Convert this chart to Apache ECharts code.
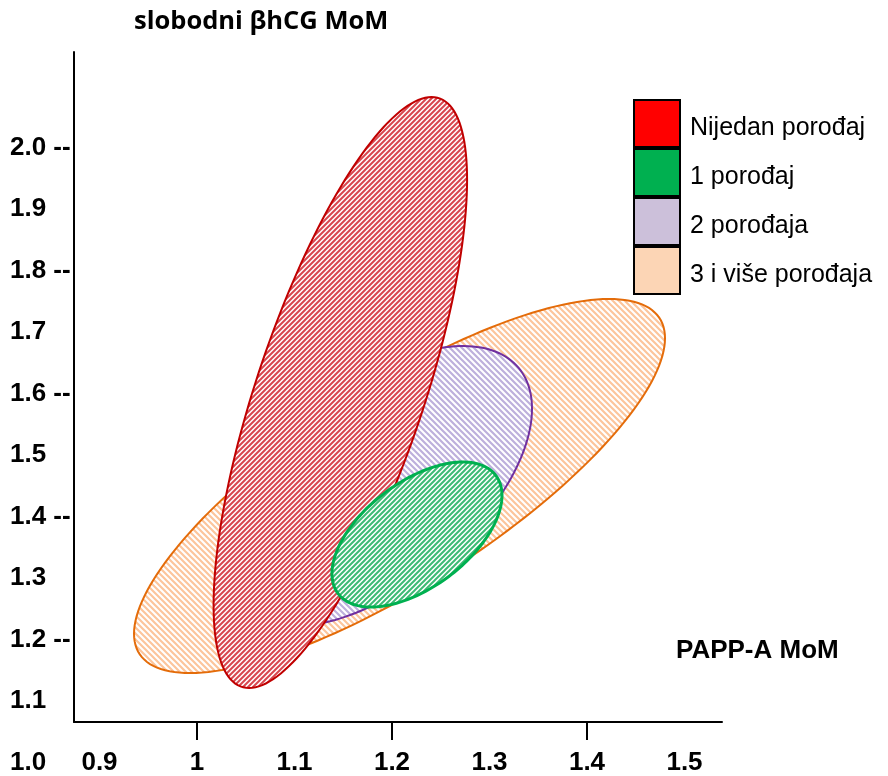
<!DOCTYPE html>
<html>
<head>
<meta charset="utf-8">
<script src="https://cdn.jsdelivr.net/npm/echarts@6/dist/echarts.min.js"></script>
<style>
html,body{margin:0;padding:0;background:#fff;}
#chart{width:888px;height:776px;}
</style>
</head>
<body>
<div id="chart"></div>
<script>
// ---- data (ellipses as bivariate summary: centre x, centre y, spread x, spread y, correlation) ----
var seriesNames = ['Nijedan porođaj', '1 porođaj', '2 porođaja', '3 i više porođaja'];
var ellNijedan = [1.147, 1.6016, 0.130, 0.4805, 0.72];
var ell1 = [1.2256, 1.3707, 0.0872, 0.1179, 0.54];
var ell2 = [1.1853, 1.4492, 0.1583, 0.228, 0.553];
var ell3 = [1.2077, 1.4496, 0.2723, 0.3041, 0.79];
var xTickLabels = [0.9, 1, 1.1, 1.2, 1.3, 1.4, 1.5];
var xTickMarks = [1, 1.2, 1.4];
var yTickLabels = [1.0, 1.1, 1.2, 1.3, 1.4, 1.5, 1.6, 1.7, 1.8, 1.9, 2.0];
var yDashed = [1.2, 1.4, 1.6, 1.8, 2.0];

function hatch(color, p, lw, dir) {
  var c = document.createElement('canvas');
  c.width = p; c.height = p;
  var g = c.getContext('2d');
  g.fillStyle = '#ffffff';
  g.fillRect(0, 0, p, p);
  g.strokeStyle = color; g.lineWidth = lw; g.lineCap = 'square';
  g.beginPath();
  if (dir === '/') {
    g.moveTo(-1, p + 1); g.lineTo(p + 1, -1);
    g.moveTo(-1, 1); g.lineTo(1, -1);
    g.moveTo(p - 1, p + 1); g.lineTo(p + 1, p - 1);
  } else {
    g.moveTo(-1, -1); g.lineTo(p + 1, p + 1);
    g.moveTo(p - 1, -1); g.lineTo(p + 1, 1);
    g.moveTo(-1, p - 1); g.lineTo(1, p + 1);
  }
  g.stroke();
  return { image: c, repeat: 'repeat' };
}

function makeRender(fill, stroke, lw) {
  return function (params, api) {
    var cx = api.value(0), cy = api.value(1), sx = api.value(2), sy = api.value(3), r = api.value(4);
    var q = Math.sqrt(1 - r * r);
    var pts = [];
    var N = 180;
    for (var i = 0; i < N; i++) {
      var t = i / N * Math.PI * 2;
      var x = cx + sx * Math.cos(t);
      var y = cy + sy * (r * Math.cos(t) + q * Math.sin(t));
      pts.push(api.coord([x, y]));
    }
    return {
      type: 'polygon',
      shape: { points: pts },
      style: { fill: fill, stroke: stroke, lineWidth: lw }
    };
  };
}

var legendFill = ['#FF0000', '#00B050', '#CCC0DA', '#FCD5B5'];

var chart = echarts.init(document.getElementById('chart'), null, { renderer: 'canvas' });
var FONT = 'Liberation Sans, Arial, sans-serif';

function ellSeries(idx, data, fill, stroke, lw, z) {
  return {
    type: 'custom',
    name: seriesNames[idx],
    xAxisIndex: 0, yAxisIndex: 0,
    coordinateSystem: 'cartesian2d',
    renderItem: makeRender(fill, stroke, lw),
    itemStyle: { color: legendFill[idx] },
    encode: { x: 0, y: 1 },
    data: [data],
    z: z,
    silent: true
  };
}

var option = {
  animation: false,
  backgroundColor: '#fff',
  grid: [
    { left: 74, right: 166, top: 52, bottom: 13.5 },
    { left: 74, right: 166, top: 52, bottom: 54 }
  ],
  xAxis: [
    { gridIndex: 0, type: 'value', min: 0.87385, max: 1.53846, axisLine: { show: false }, axisTick: { show: false }, axisLabel: { show: false }, splitLine: { show: false } },
    { gridIndex: 1, type: 'value', min: 0.87385, max: 1.53846,
      axisLine: { show: true, onZero: false, lineStyle: { color: '#000', width: 2 } },
      axisTick: { show: true, customValues: xTickMarks, length: 18, lineStyle: { color: '#000', width: 2 } },
      axisLabel: { show: true, customValues: xTickLabels, margin: 28, color: '#000', fontFamily: FONT, fontWeight: 'bold', fontSize: 26,
        formatter: function (v) { return String(v); } },
      splitLine: { show: false } }
  ],
  yAxis: [
    { gridIndex: 0, type: 'value', min: 1.0, max: 2.1553,
      axisLine: { show: false }, axisTick: { show: false }, splitLine: { show: false },
      axisLabel: { show: true, customValues: yTickLabels, align: 'left', margin: 64, color: '#000', fontFamily: FONT, fontWeight: 'bold', fontSize: 26,
        formatter: function (v) {
          var s = v.toFixed(1);
          for (var i = 0; i < yDashed.length; i++) { if (Math.abs(yDashed[i] - v) < 1e-6) return s + ' --'; }
          return s;
        } } },
    { gridIndex: 1, type: 'value', min: 1.0659, max: 2.1553,
      axisLine: { show: true, onZero: false, lineStyle: { color: '#000', width: 2 } },
      axisTick: { show: false }, axisLabel: { show: false }, splitLine: { show: false } }
  ],
  legend: {
    orient: 'vertical', left: 633, top: 99, padding: 0,
    itemWidth: 46, itemHeight: 47, itemGap: 0,
    icon: 'rect',
    selectedMode: false,
    formatter: function (n) { return '{t|' + n + '}'; },
    textStyle: {
      fontFamily: FONT, fontSize: 25, color: '#000',
      rich: { t: { fontFamily: FONT, fontSize: 25, color: '#000', padding: [9, 0, 0, 5] } }
    },
    data: seriesNames.map(function (n, i) {
      return { name: n, icon: 'rect', itemStyle: { color: legendFill[i], borderColor: '#000', borderWidth: 2 } };
    })
  },
  graphic: [
    { type: 'text', left: 134, top: 9, style: { text: 'slobodni βhCG MoM', fontFamily: 'Open Sans, Lato, sans-serif', fontWeight: 'bold', fontSize: 25.5, fill: '#000' } },
    { type: 'text', left: 676, top: 638, style: { text: 'PAPP-A MoM', fontFamily: FONT, fontWeight: 'bold', fontSize: 26, fill: '#000' } }
  ],
  series: [
    ellSeries(3, ell3, hatch('#fcc59c', 6, 2.2, '\\'), '#E46C0A', 2, 1),
    ellSeries(2, ell2, hatch('#bdb0dc', 6, 2.2, '\\'), '#7030A0', 2, 2),
    ellSeries(0, ellNijedan, hatch('#d8464f', 5, 2, '/'), '#C00000', 2, 3),
    ellSeries(1, ell1, hatch('#3dba74', 5, 2, '/'), '#00B050', 3, 4)
  ]
};
chart.setOption(option);
</script>
</body>
</html>
